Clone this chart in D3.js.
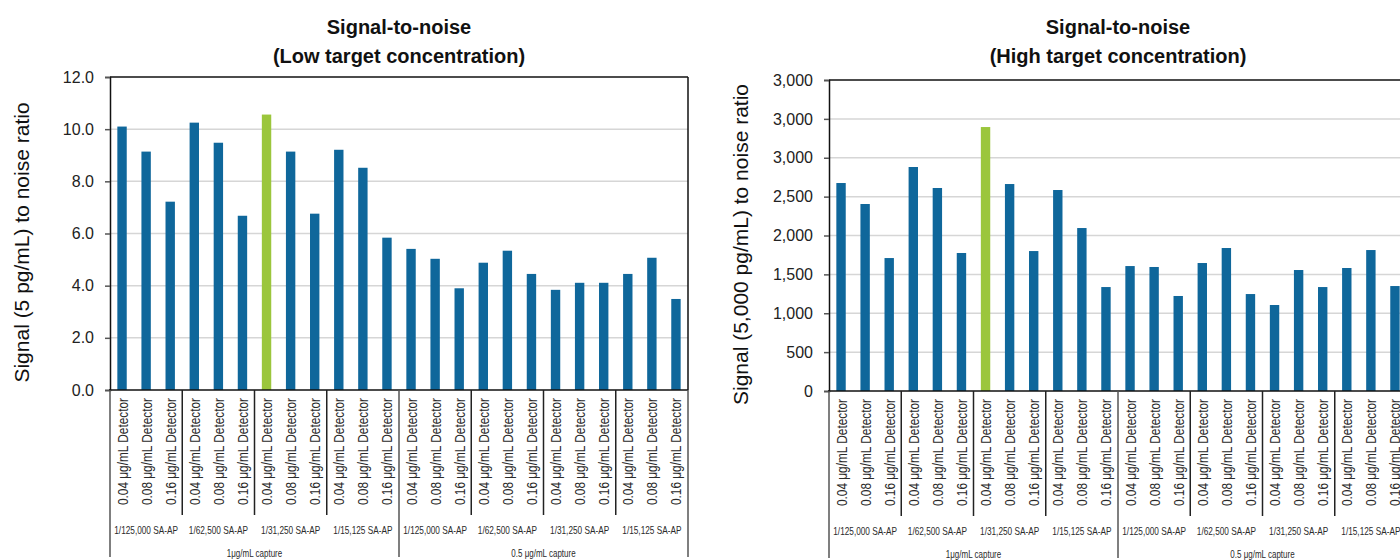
<!DOCTYPE html>
<html>
<head>
<meta charset="utf-8">
<script src="https://cdn.jsdelivr.net/npm/d3@7"></script>
<style>
  html, body { margin: 0; padding: 0; background: #fff; }
  svg { display: block; }
</style>
</head>
<body>
<svg id="chart" width="1400" height="560"></svg>
<script>
// ---------------- DATA ----------------
const detectors = ["0.04 μg/mL Detector", "0.08 μg/mL Detector", "0.16 μg/mL Detector"];
const saapGroups = ["1/125,000 SA-AP", "1/62,500 SA-AP", "1/31,250 SA-AP", "1/15,125 SA-AP"];
const captures = ["1μg/mL capture", "0.5 μg/mL capture"];

const lowValues = [10.10, 9.14, 7.22, 10.25, 9.48, 6.68, 10.56, 9.14, 6.76, 9.21, 8.52, 5.84,
                   5.41, 5.03, 3.90, 4.88, 5.34, 4.45, 3.84, 4.11, 4.11, 4.45, 5.07, 3.49];
const highValues = [2675, 2405, 1710, 2881, 2611, 1775, 3395, 2662, 1800, 2585, 2096, 1337,
                    1607, 1595, 1222, 1646, 1839, 1247, 1106, 1556, 1337, 1582, 1813, 1350];
const highlightIndex = 6;

const lowTicks = [0, 2, 4, 6, 8, 10, 12];
const lowTickLabels = ["0.0", "2.0", "4.0", "6.0", "8.0", "10.0", "12.0"];
const highTicks = [0, 500, 1000, 1500, 2000, 2500, 3000, 3500, 4000];
const highTickLabels = ["0", "500", "1,000", "1,500", "2,000", "2,500", "3,000", "3,000", "3,000"];

const titlesLow = ["Signal-to-noise", "(Low target concentration)"];
const titlesHigh = ["Signal-to-noise", "(High target concentration)"];
const yTitleLow = "Signal (5 pg/mL) to noise ratio";
const yTitleHigh = "Signal (5,000 pg/mL) to noise ratio";

// ---------------- DRAW ----------------
const svg = d3.select("#chart");
const BLUE = "#0f679b", GREEN = "#9bc63c";
const SANS = "'Liberation Sans', Arial, Helvetica, sans-serif";

// build category list
const cats = [];
captures.forEach((c, ci) => saapGroups.forEach((s, si) => detectors.forEach((d, di) => {
  cats.push({capture: c, saap: s, detector: d, idx: cats.length});
})));

function drawChart(cfg) {
  const {left, top, width, height, values, ticks, tickLabels, titles, yTitle, yTitleX} = cfg;
  const g = svg.append("g").attr("transform", `translate(${left},${top})`);
  const x = d3.scaleBand().domain(cats.map(d => d.idx)).range([0, width])
    .paddingInner(0.61).paddingOuter(0.305);
  const step = x.step();
  const y = d3.scaleLinear().domain([ticks[0], ticks[ticks.length - 1]]).range([height, 0]);

  // gridlines
  g.append("g").selectAll("line").data(ticks.slice(1, -1)).join("line")
    .attr("x1", 0).attr("x2", width)
    .attr("y1", d => y(d)).attr("y2", d => y(d))
    .attr("stroke", "#d6d6d6").attr("stroke-width", 1.5);

  // bars
  g.append("g").selectAll("rect").data(cats).join("rect")
    .attr("x", d => x(d.idx)).attr("width", x.bandwidth())
    .attr("y", d => y(values[d.idx])).attr("height", d => y(0) - y(values[d.idx]))
    .attr("fill", d => d.idx === highlightIndex ? GREEN : BLUE);

  // frame (top + right)
  g.append("line").attr("x1", 0).attr("x2", width).attr("y1", 0).attr("y2", 0)
    .attr("stroke", "#111").attr("stroke-width", 1.5);
  g.append("line").attr("x1", width).attr("x2", width).attr("y1", 0).attr("y2", height)
    .attr("stroke", "#111").attr("stroke-width", 1.5);

  // y axis
  const yAxis = d3.axisLeft(y).tickValues(ticks)
    .tickFormat((d, i) => tickLabels[i]).tickSize(5).tickPadding(11);
  const ya = g.append("g").call(yAxis);
  ya.select(".domain").attr("stroke", "#111").attr("stroke-width", 1.5);
  ya.selectAll(".tick line").attr("stroke", "#555").attr("stroke-width", 1.5);
  ya.selectAll(".tick text").attr("font-family", SANS).attr("font-size", 16).attr("fill", "#222");

  // x axis baseline
  g.append("line").attr("x1", -1).attr("x2", width).attr("y1", height).attr("y2", height)
    .attr("stroke", "#111").attr("stroke-width", 1.5);

  // detector labels (condensed)
  g.append("g").selectAll("text").data(cats).join("text")
    .attr("transform", d => `translate(${x(d.idx) + x.bandwidth() / 2 + 5.5},${height + 8}) rotate(-90) scale(0.79,1)`)
    .attr("text-anchor", "end")
    .attr("font-family", SANS).attr("font-size", 15).attr("fill", "#2a2a2a")
    .text(d => d.detector);

  // separators
  const nPer = detectors.length;
  const perCap = nPer * saapGroups.length;
  const sepIdx = d3.range(0, cats.length + 1, nPer);
  g.append("g").selectAll("line").data(sepIdx).join("line")
    .attr("x1", i => i * step).attr("x2", i => i * step)
    .attr("y1", height).attr("y2", i => (i % perCap === 0) ? height + 167 : height + 125)
    .attr("stroke", i => (i % perCap === 0) ? "#555" : "#222")
    .attr("stroke-width", 1.5);

  // SA-AP group labels
  const groupData = [];
  captures.forEach((c, ci) => saapGroups.forEach((s, si) => groupData.push({s, k: ci * saapGroups.length + si})));
  g.append("g").selectAll("text").data(groupData).join("text")
    .attr("transform", d => `translate(${(d.k * nPer + nPer / 2) * step},${height + 144}) scale(0.75,1)`)
    .attr("text-anchor", "middle").attr("font-family", SANS).attr("font-size", 11).attr("fill", "#2a2a2a")
    .text(d => d.s);

  // capture labels
  g.append("g").selectAll("text").data(captures).join("text")
    .attr("transform", (d, i) => `translate(${(i * perCap + perCap / 2) * step},${height + 167}) scale(0.8,1)`)
    .attr("text-anchor", "middle").attr("font-family", SANS).attr("font-size", 10).attr("fill", "#2a2a2a")
    .text(d => d);

  // titles
  svg.append("g").selectAll("text").data(titles).join("text")
    .attr("x", left + width / 2).attr("y", (d, i) => 34 + i * 29)
    .attr("text-anchor", "middle").attr("font-family", SANS).attr("font-weight", "bold")
    .attr("font-size", 20).attr("fill", "#111")
    .text(d => d);

  // y title
  svg.append("text")
    .attr("transform", `translate(${yTitleX},${top + height / 2 + 9}) rotate(-90)`)
    .attr("text-anchor", "middle").attr("font-family", SANS).attr("font-size", 21).attr("fill", "#111")
    .text(yTitle);
}

drawChart({left: 110, top: 77, width: 578, height: 313, values: lowValues,
  ticks: lowTicks, tickLabels: lowTickLabels, titles: titlesLow, yTitle: yTitleLow, yTitleX: 29});
drawChart({left: 829, top: 80, width: 578, height: 311, values: highValues,
  ticks: highTicks, tickLabels: highTickLabels, titles: titlesHigh, yTitle: yTitleHigh, yTitleX: 748});
</script>
</body>
</html>
